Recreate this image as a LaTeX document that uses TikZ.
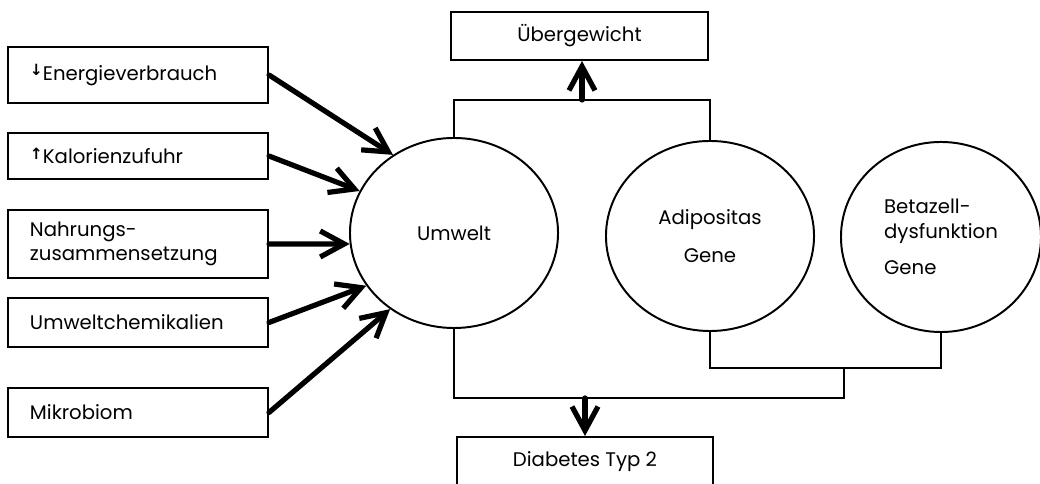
\documentclass[tikz,border=0pt]{standalone}
\usepackage{fontspec}
\setmainfont{Poppins}
\newfontfamily\arrowfont{DejaVu Sans}
\usetikzlibrary{arrows.meta, positioning, shapes.geometric}
\tikzset{
	factorbox/.style={
			draw=black,
			line width=1.4pt,
			rectangle,
			minimum width=6.5cm,
			text width=5.4cm,
			align=left,
			inner sep=0pt
		},
	outcomebox/.style={
			draw=black,
			line width=1.4pt,
			rectangle,
			minimum width=6.4cm,
			minimum height=1.2cm,
			inner sep=0pt
		},
	genenode/.style={
			draw=black,
			line width=1.4pt,
			ellipse,
			minimum width=5.2cm,
			minimum height=4.75cm,
			inner sep=0pt,
			align=center
		},
	heavyarrow/.style={
			-{Straight Barb[length=6mm,width=6.5mm]},
			line width=3.7pt,
			line cap=round,
			line join=round
		},
	joinline/.style={
			line width=1.4pt
		}
}
\tikzset{
	labeltext/.style={font=\fontsize{14}{17.5}\selectfont}
}
\newcommand{\tendarrow}[1]{\raisebox{0.45ex}{\arrowfont\bfseries\fontsize{11}{11}\selectfont #1}}

\begin{document}
\begin{tikzpicture}[x=0.025cm, y=0.025cm, every node/.append style={labeltext}]
        \useasboundingbox (0,0) rectangle (1040,484);

        % Einflussfaktoren links
        \node[factorbox, minimum height=1.4cm] at (138,409) (verbrauch) {\tendarrow{↓}Energieverbrauch};
        \node[factorbox, minimum height=1.15cm] at (138,328) (zufuhr) {\tendarrow{↑}Kalorienzufuhr};
        \node[factorbox, minimum height=1.7cm] at (138,240) (nahrung) {Nahrungs-\\zusammensetzung};
        \node[factorbox, minimum height=1.225cm] at (138,161.5) (chemie) {Umweltchemikalien};
        \node[factorbox, minimum height=1.225cm] at (138,71.5) (mikro) {Mikrobiom};

        % Ursachen
        \node[genenode] at (454,251) (umwelt) {Umwelt};
        \node[genenode] at (710,248) (adipo) {Adipositas\\[9pt]Gene};
        \node[genenode, minimum width=5cm, align=left] at (941,247) (beta) {Betazell-\\dysfunktion\\[8pt]Gene};

        % Folgen
        \node[outcomebox] at (579.5,448) (ueber) {Übergewicht};
        \node[outcomebox, minimum height=1.25cm] at (585,22) (diabetes) {Diabetes Typ 2};

        \draw[heavyarrow] (verbrauch.east) -- (umwelt.128);
        \draw[heavyarrow] (zufuhr.east) -- (umwelt.156);
        \draw[heavyarrow] (nahrung.east) -- (umwelt.186);
        \draw[heavyarrow] (chemie.east) -- (umwelt.211);
        \draw[heavyarrow] (mikro.east) -- (umwelt.230);

        \coordinate (oben) at (582,384);
        \coordinate (genjoin) at (844,116);
        \coordinate (unten) at (585,86);

        \draw[joinline] (umwelt.north) |- (oben) -| (adipo.north);
        \draw[heavyarrow] (oben) -- (oben |- ueber.south);

        \draw[joinline] (adipo.south) |- (genjoin) -| (beta.south);
        \draw[joinline] (umwelt.south) |- (unten) -| (genjoin);
        \draw[heavyarrow] (unten) -- (diabetes.north);
      \end{tikzpicture}
\end{document}
